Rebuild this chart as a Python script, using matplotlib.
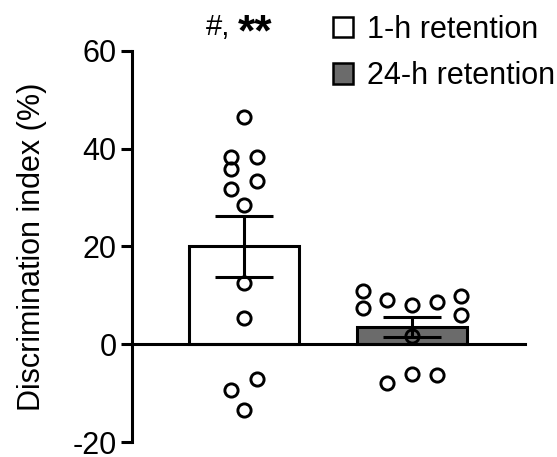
import matplotlib.pyplot as plt
import matplotlib.patches as mpatches

plt.rcParams['font.family'] = ['Liberation Sans', 'DejaVu Sans']
plt.rcParams['axes.unicode_minus'] = False

groups = ['1-h retention', '24-h retention']
means = [20.0, 3.5]
sems = [6.2, 2.1]
bar_colors = ['white', '#6b6b6b']

# individual animals (x offset within group, value)
pts_1h_x = [0, -0.08, 0.08, -0.08, -0.08, 0.08, 0, 0, 0, 0.08, -0.08, 0]
pts_1h_y = [46.4, 38.3, 38.3, 35.8, 31.8, 33.4, 28.5, 12.6, 5.3, -7.1, -9.4, -13.4]
pts_24h_x = [-0.29, -0.29, -0.15, 0, 0.15, 0.29, 0.29, 0, -0.15, 0, 0.15]
pts_24h_y = [10.8, 7.5, 9.0, 8.1, 8.6, 9.8, 5.9, 1.6, -7.9, -6.1, -6.3]

fs = 22
fig = plt.figure(figsize=(5.57, 4.57), dpi=100)
ax = fig.add_axes([0.237, 0.0328, 0.7055, 0.8562])

lw = 2.2
ax.bar([0, 1], means, width=0.66, color=bar_colors, edgecolor='black',
       linewidth=lw, zorder=2)
ax.errorbar([0, 1], means, yerr=sems, fmt='none', ecolor='black',
            elinewidth=lw, capsize=21, capthick=lw, zorder=4)
ax.plot(pts_1h_x, pts_1h_y, 'o', mfc='none', mec='black', ms=9.5, mew=2.1, zorder=3)
ax.plot([1 + v for v in pts_24h_x], pts_24h_y, 'o', mfc='none', mec='black',
        ms=9.5, mew=2.1, zorder=3)

ax.set_xlim(-0.667, 1.673)
ax.set_ylim(-20, 60)
ax.set_yticks([-20, 0, 20, 40, 60])
ax.set_xticks([])
ax.spines['top'].set_visible(False)
ax.spines['right'].set_visible(False)
ax.spines['bottom'].set_position(('data', 0))
ax.spines['left'].set_linewidth(lw)
ax.spines['bottom'].set_linewidth(lw)
ax.tick_params(axis='y', labelsize=fs, length=8, width=lw, pad=3)
ax.set_ylabel('Discrimination index (%)', fontsize=fs, labelpad=18)

# significance marks above the 1-h bar
ax.text(-0.228, 63.2, '#,', fontsize=21, ha='left', va='baseline', clip_on=False)
ax.text(-0.036, 61.0, '**', fontsize=32, fontweight='bold', ha='left',
        va='baseline', clip_on=False)

handles = [mpatches.Patch(facecolor=c, edgecolor='black', linewidth=1.8)
           for c in bar_colors]
fig.legend(handles, groups, loc='upper left', bbox_to_anchor=(0.598, 0.968),
           frameon=False, fontsize=fs, handlelength=0.65, handleheight=0.65,
           handletextpad=0.45, labelspacing=0.55, borderaxespad=0, borderpad=0)

fig.savefig('out.png', dpi=100)
